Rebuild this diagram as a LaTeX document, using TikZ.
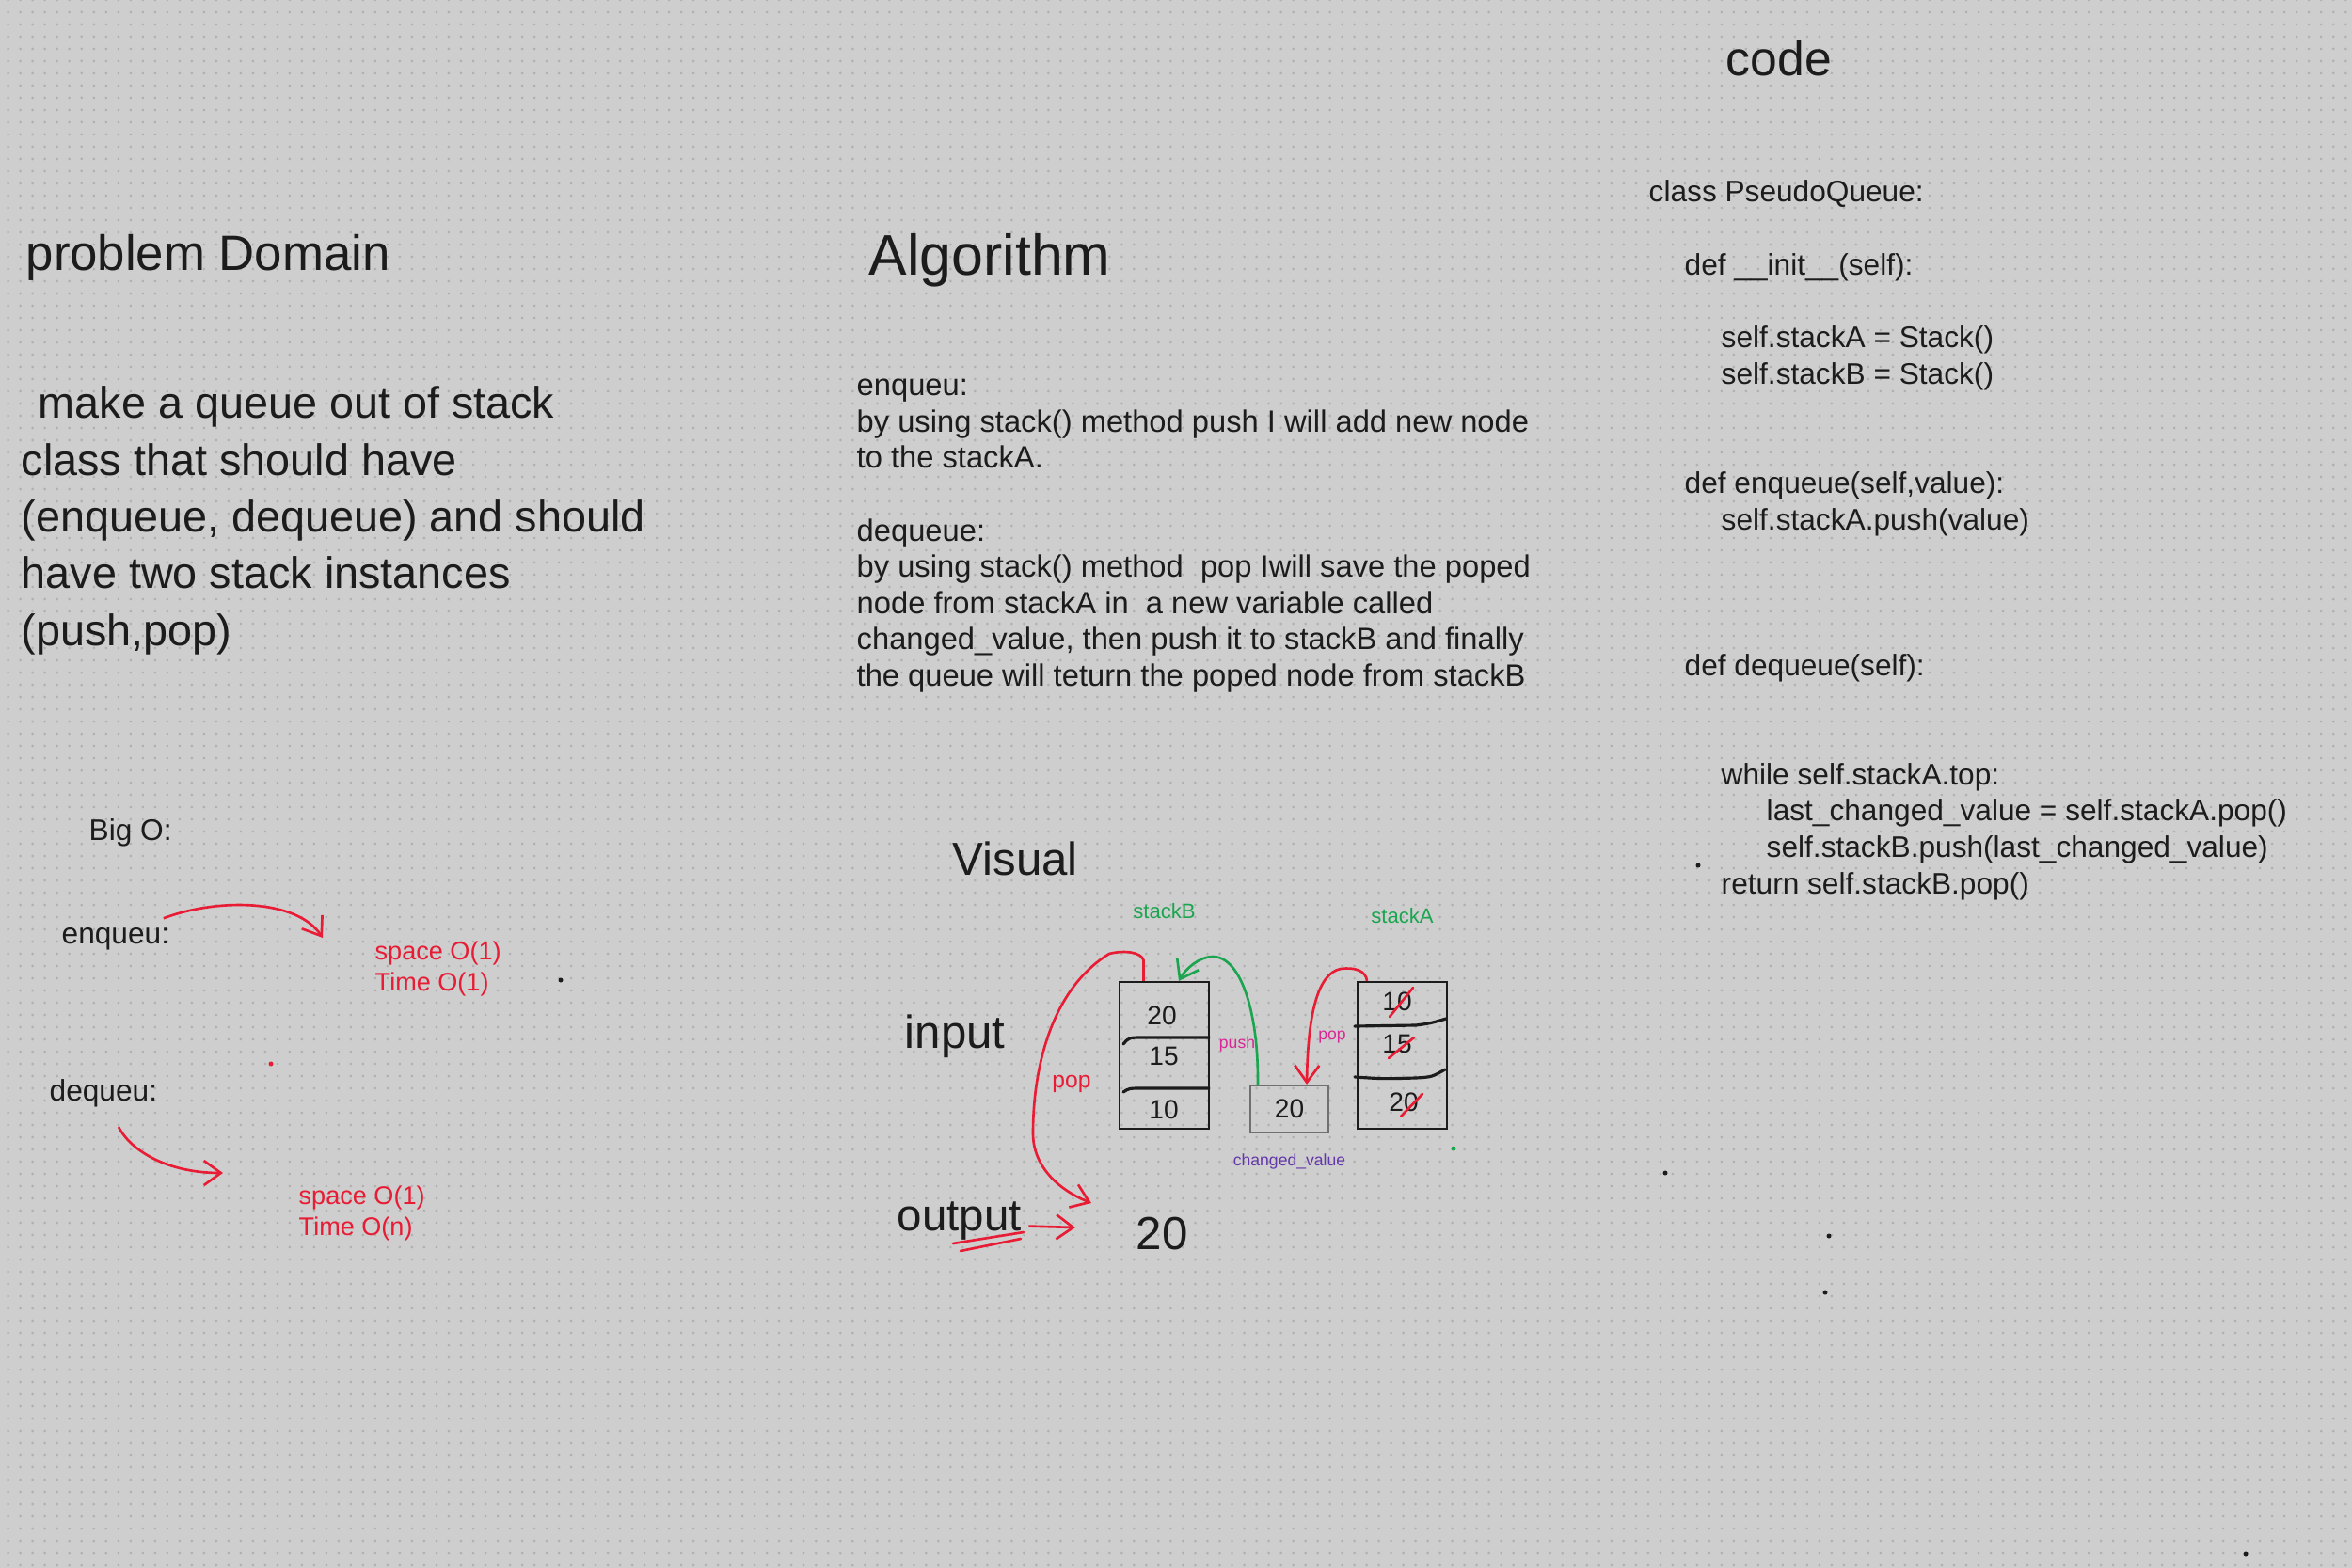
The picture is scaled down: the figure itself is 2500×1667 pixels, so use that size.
\documentclass[tikz,border=0pt]{standalone}
\usepackage{fontspec}
\setmainfont{Liberation Sans}
\usetikzlibrary{arrows.meta, positioning}

\definecolor{board}{RGB}{206,206,206}
\definecolor{grid}{RGB}{176,176,176}
\definecolor{ink}{RGB}{28,28,28}
\definecolor{pen}{RGB}{232,28,52}
\definecolor{leaf}{RGB}{28,165,80}
\definecolor{pink}{RGB}{218,38,150}
\definecolor{plum}{RGB}{100,55,170}
\definecolor{frame}{RGB}{112,112,112}

\begin{document}
\begin{tikzpicture}[x=0.01cm, y=-0.01cm,
  head/.style={anchor=base west, inner sep=0pt, font=\fontsize{16}{19}\selectfont, text=ink},
  para/.style={anchor=base west, inner sep=0pt, font=\fontsize{13.3}{16}\selectfont, text=ink},
  algo/.style={anchor=base west, inner sep=0pt, font=\fontsize{9.3}{11}\selectfont, text=ink},
  code/.style={anchor=base west, inner sep=0pt, font=\fontsize{9}{11}\selectfont, text=ink},
  bigo/.style={anchor=base west, inner sep=0pt, font=\fontsize{9}{11}\selectfont, text=ink},
  cost/.style={anchor=base west, inner sep=0pt, font=\fontsize{7.7}{9}\selectfont, text=pen},
  stk/.style={draw=ink, line width=0.6pt, minimum width=0.95cm, minimum height=1.56cm, inner sep=0pt},
  cell/.style={inner sep=0pt, font=\fontsize{8}{9}\selectfont, text=ink},
  tag/.style={inner sep=0pt, font=\fontsize{6.3}{7}\selectfont, text=leaf},
  note/.style={inner sep=0pt, font=\fontsize{5}{6}\selectfont},
  flow/.style={pen, line width=0.75pt, -{Straight Barb[length=1.8mm, width=2.6mm]}},
  strike/.style={pen, line width=0.75pt, line cap=round},
  bar/.style={ink, line width=0.9pt, line cap=round}
]

% board with dot grid
\useasboundingbox (0,0) rectangle (2500,1667);
\fill[board] (0,0) rectangle (2500,1667);
\foreach \k in {0,...,128}
  \draw[grid, line width=0.03cm, line cap=round, dash pattern=on 0pt off 0.13cm] (8.7,13*\k) -- (2500,13*\k);

% headings
\node[head, font=\fontsize{15}{18}\selectfont] (domain) at (27,288) {problem Domain};
\node[head, font=\fontsize{17.3}{20}\selectfont] (algo) at (923,293) {Algorithm};
\node[head, font=\fontsize{14.7}{18}\selectfont] (code) at (1834,81) {code};

% problem domain
\foreach \k/\ind/\txt in {0/18/{make a queue out of stack}, 1/0/{class that should have},
    2/0/{(enqueue, dequeue) and should}, 3/0/{have two stack instances}, 4/0/{(push,pop)}}
  \node[para] (prob\k) at (22+\ind, 445+60.3*\k) {\txt};

% algorithm
\foreach \k/\txt in {0/{enqueu:}, 1/{by using stack() method push I will add new node},
    2/{to the stackA.}, 4/{dequeue:}, 5/{by using stack() method\ \ pop Iwill save the poped},
    6/{node from stackA in\ \ a new variable called}, 7/{changed\_value, then push it to stackB and finally},
    8/{the queue will teturn the poped node from stackB}}
  \node[algo] (step\k) at (910, 421+38.5*\k) {\txt};

% code
\foreach \k/\ind/\txt in {0/0/{class PseudoQueue:}, 2/38/{def \_\_init\_\_(self):},
    4/77/{self.stackA = Stack()}, 5/77/{self.stackB = Stack()},
    8/38/{def enqueue(self,value):}, 9/77/{self.stackA.push(value)},
    13/38/{def dequeue(self):}, 16/77/{while self.stackA.top:},
    17/125/{last\_changed\_value = self.stackA.pop()}, 18/125/{self.stackB.push(last\_changed\_value)},
    19/77/{return self.stackB.pop()}}
  \node[code] (line\k) at (1752+\ind, 215+38.7*\k) {\txt};

% big O
\node[bigo] (bigO) at (94,893) {Big O:};
\node[bigo] (enq) at (65,1003) {enqueu:};
\node[bigo] (deq) at (52,1170) {dequeu:};
\node[cost] (enqspace) at (398,1020) {space O(1)};
\node[cost] (enqtime) at (398,1053) {Time O(1)};
\node[cost] (deqspace) at (317,1280) {space O(1)};
\node[cost] (deqtime) at (317,1313) {Time O(n)};

\coordinate (enqtip) at (343,997);
\coordinate (deqtail) at (126,1198);
\coordinate (deqtip) at (237,1247);
\draw[flow] ([shift={(-0.7mm,0.9mm)}]enq.north east) .. controls (230,955) and (315,955) .. (enqtip);
\draw[flow] (deqtail) .. controls (140,1225) and (180,1247) .. (deqtip);

% visual
\node[head, font=\fontsize{14}{17}\selectfont] (visual) at (1012,930) {Visual};
\node[head, font=\fontsize{14}{17}\selectfont] (input) at (961,1114) {input};
\node[head, font=\fontsize{13.5}{17}\selectfont] (output) at (953,1308) {output};
\node[head, font=\fontsize{14}{17}\selectfont, anchor=center] (result) at (1235,1312) {20};

\node[stk] (sB) at (1237.5,1122) {};
\node[stk] (sA) at (1490.5,1122) {};
\node[stk, draw=frame, minimum width=0.83cm, minimum height=0.5cm, font=\fontsize{8}{9}\selectfont, text=ink] (chg) at (1370.5,1179) {20};

\draw[bar] (1194,1110) .. controls (1200,1103) .. (1215,1103) -- (1285,1103);
\draw[bar] (1194,1161) .. controls (1200,1157) .. (1215,1157) -- (1285,1157);
\draw[bar] (1440,1091) -- (1505,1090) .. controls (1520,1088) .. (1537,1083);
\draw[bar] (1440,1145) .. controls (1470,1147) .. (1505,1146) .. controls (1522,1145) .. (1536,1137);

\node[cell] (b20) at (1235,1080) {20};
\node[cell] (b15) at (1237,1123) {15};
\node[cell] (b10) at (1237,1180) {10};
\node[cell] (a10) at (1485,1065) {10};
\node[cell] (a15) at (1485,1110) {15};
\node[cell] (a20) at (1492,1172) {20};
\draw[strike] (1477,1081) -- (1502,1050);
\draw[strike] (1476,1125) -- (1503,1103);
\draw[strike] (1489,1187) -- (1512,1163);

\node[tag, above=6.5mm of sB] (tagB) {stackB};
\node[tag, above=6mm of sA] (tagA) {stackA};
\node[note, text=plum, below=2.1mm of chg] (chglbl) {changed\_value};
\node[note, text=pink] (pushlbl) at (1315,1110) {push};
\node[note, text=pink] (poplblA) at (1416,1103) {pop};
\node[note, text=pen, font=\fontsize{7}{8}\selectfont] (poplblB) at (1139,1152) {pop};

\coordinate (outtip) at (1160,1279);
\coordinate (outhead) at (1143,1305);
\draw[flow] ([xshift=-2.2mm]sB.north) -- ++(0,-22) .. controls (1213,1012) and (1195,1010) .. (1179,1014)
  .. controls (1120,1050) and (1098,1130) .. (1098,1205) .. controls (1098,1240) and (1125,1265) .. (outtip);
\draw[flow, leaf] ([xshift=0.9mm]chg.north west) .. controls (1338,1080) and (1320,1017) .. (1289,1017)
  .. controls (1275,1017) and (1260,1030) .. ([xshift=1.55mm]sB.north);
\draw[flow] ([xshift=-3.75mm]sA.north) .. controls (1452,1032) and (1440,1028) .. (1425,1030)
  .. controls (1400,1035) and (1390,1080) .. ([xshift=1.85mm]chg.north);
\draw[flow] ([shift={(0.7mm,-0.6mm)}]output.east) -- (outhead);
\draw[strike] (1013,1322) -- (1088,1310);
\draw[strike] (1021,1330) -- (1085,1317);

% stray specks
\fill[ink] (596,1042) circle[radius=2.5];
\fill[pen] (288,1131) circle[radius=2.5];
\fill[ink] (1805,920) circle[radius=2.5];
\fill[ink] (1770,1247) circle[radius=2.5];
\fill[ink] (1944,1314) circle[radius=2.5];
\fill[ink] (1940,1374) circle[radius=2.5];
\fill[ink] (2387,1652) circle[radius=2.5];
\fill[leaf] (1545,1221) circle[radius=2.5];
\end{tikzpicture}
\end{document}
